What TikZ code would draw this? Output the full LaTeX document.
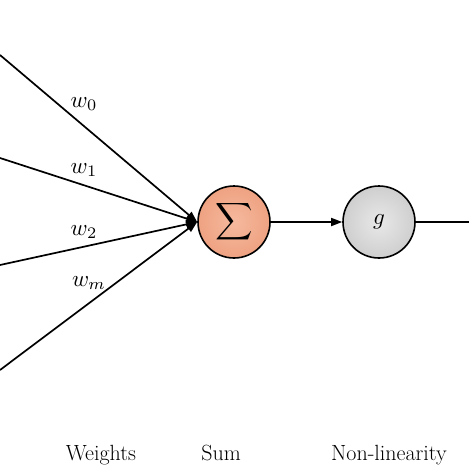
\documentclass[tikz,border=0pt]{standalone}
\usepackage{fontspec}
\usepackage{graphicx}
\usetikzlibrary{arrows.meta}
\newcommand{\mymath}[1]{\scalebox{2.3}{$#1$}}
\begin{document}
\begin{tikzpicture}[x=1pt,y=-1pt,
  neuron/.style={circle,draw=black,line width=1.6pt,minimum size=72pt,inner sep=0pt},
  wire/.style={line width=1.7pt},
  tip/.style={-{Triangle[length=11pt,width=8pt]}},
  lbl/.style={font=\fontsize{22}{26}\selectfont}]
\useasboundingbox (0,0) rectangle (469,469);
\node[neuron,inner color={rgb,255:red,246;green,185;blue,158},outer color={rgb,255:red,238;green,162;blue,130}] (sum) at (234,222) {\scalebox{2.6}{$\displaystyle\sum$}};
\node[neuron,inner color=gray!18,outer color=gray!38] (g) at (379,222) {\mymath{g}};
\coordinate (in0) at (0,55);
\coordinate (in1) at (0,158);
\coordinate (in2) at (0,265);
\coordinate (inm) at (0,370);
\coordinate (out) at (469,222);
\draw[wire,tip] (in0) -- (sum.west);
\draw[wire,tip] (in1) -- (sum.west);
\draw[wire,tip] (in2) -- (sum.west);
\draw[wire,tip] (inm) -- (sum.west);
\draw[wire,tip] (sum) -- (g);
\draw[wire] (g) -- (out);
\node (w0) at (84,104) {\mymath{w_0}};
\node (w1) at (84,170) {\mymath{w_1}};
\node (w2) at (84,232) {\mymath{w_2}};
\node (wm) at (89,283) {\mymath{w_m}};
\node[lbl,anchor=base] (tw) at (101,460) {Weights};
\node[lbl,anchor=base] (ts) at (221,460) {Sum};
\node[lbl,anchor=base] (tn) at (389,460) {Non-linearity};
\end{tikzpicture}
\end{document}
